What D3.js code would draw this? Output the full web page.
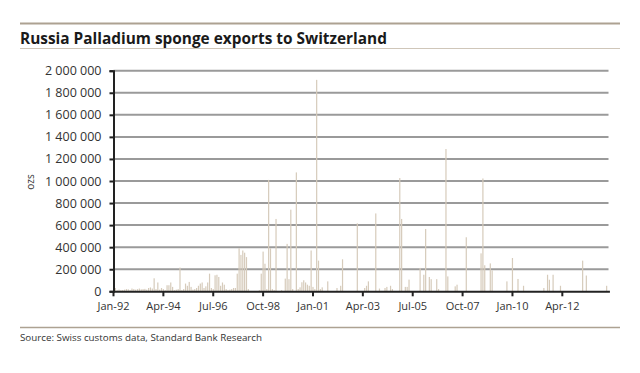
<!DOCTYPE html>
<html>
<head>
<meta charset="utf-8">
<script src="https://cdnjs.cloudflare.com/ajax/libs/d3/7.8.5/d3.min.js"></script>
<style>
body { margin: 0; background: #fff; }
text { font-family: "Open Sans", sans-serif; }
</style>
</head>
<body>
<script>
var title = "Russia Palladium sponge exports to Switzerland";
var source = "Source: Swiss customs data, Standard Bank Research";
var yLabel = "ozs";

// monthly exports in thousand ozs, one row per year, starting Jan-92
var kozs1990s = [
    0, 30, 10, 15, 10, 12, 15, 20, 18, 10, 25, 20,
    15, 20, 25, 18, 20, 22, 15, 30, 35, 25, 118, 20,
    80, 15, 30, 20, 10, 55, 55, 80, 40, 10, 15, 20,
    215, 10, 20, 70, 50, 85, 40, 15, 20, 30, 50, 70,
    80, 30, 45, 80, 160, 30, 20, 145, 150, 130, 50, 80,
    60, 20, 10, 15, 20, 30, 30, 160, 390, 330, 370, 350,
    310, 20, 0, 0, 0, 0, 0, 10, 160, 360, 250, 20,
    1010, 390, 20, 10, 656, 0, 0, 10, 0, 115, 430, 110
];
var kozs2000s = [
    740, 20, 0, 1078, 20, 36, 82, 100, 80, 60, 50, 370,
    40, 20, 1917, 278, 20, 36, 0, 0, 90, 0, 0, 0,
    0, 30, 0, 50, 290, 0, 0, 0, 0, 0, 0, 0,
    616, 0, 0, 0, 30, 50, 90, 0, 0, 0, 706, 0,
    25, 0, 0, 30, 40, 0, 50, 20, 0, 0, 0, 1027,
    656, 0, 40, 40, 106, 0, 0, 0, 0, 0, 212, 0,
    150, 565, 0, 130, 110, 0, 0, 110, 20, 0, 0, 0,
    1290, 135, 0, 0, 0, 45, 60, 0, 0, 0, 0, 490,
    0, 0, 0, 0, 0, 0, 0, 344, 1023, 236, 0, 0,
    253, 190, 0, 0, 0, 0, 0, 0, 0, 90, 0, 0
];
var kozs2010s = [
    302, 0, 0, 112, 0, 0, 50, 0, 0, 0, 0, 0,
    0, 0, 0, 0, 0, 30, 0, 150, 105, 0, 150, 0,
    0, 0, 50, 0, 0, 0, 0, 0, 0, 0, 0, 0,
    0, 0, 278, 0, 143, 0, 0, 0, 0, 0, 0, 0,
    0, 0, 0, 50, 0
];

var tickLabels = ["Jan-92", "Apr-94", "Jul-96", "Oct-98", "Jan-01", "Apr-03", "Jul-05", "Oct-07", "Jan-10", "Apr-12"];
var yTicks = [0, 200000, 400000, 600000, 800000, 1000000, 1200000, 1400000, 1600000, 1800000, 2000000];

var values = kozs1990s.concat(kozs2000s, kozs2010s);
var monthFormat = d3.timeFormat("%b-%y");
var months = values.map(function(v, i) { return monthFormat(new Date(1992, i, 1)); });
var data = values.map(function(v, i) { return {month: months[i], ozs: v * 1000}; });

var width = 640, height = 373;
var plot = {left: 113.5, right: 608.5, top: 70.7, bottom: 291.3};

var svg = d3.select("body").append("svg")
    .attr("width", width)
    .attr("height", height);

var step = (plot.right - plot.left) / (months.length - 1);
var xScale = d3.scaleBand()
    .domain(months)
    .range([plot.left - step / 2, plot.right + step / 2])
    .padding(0);
var yScale = d3.scaleLinear()
    .domain([0, 2000000])
    .range([plot.bottom, plot.top]);

var locale = d3.formatLocale({decimal: ".", thousands: " ", grouping: [3], currency: ["", ""]});
var fmt = locale.format(",");

// header rules and title
svg.append("line")
    .attr("x1", 20).attr("x2", 620).attr("y1", 23.5).attr("y2", 23.5)
    .attr("stroke", "#ada292").attr("stroke-width", 2);
svg.append("line")
    .attr("x1", 20).attr("x2", 620).attr("y1", 48.5).attr("y2", 48.5)
    .attr("stroke", "#cfc6b9").attr("stroke-width", 1);
svg.append("text")
    .attr("x", 20)
    .attr("y", 44)
    .attr("font-size", "15.4px")
    .attr("font-weight", "bold")
    .attr("fill", "#1a1a1a")
    .text(title);

// gridlines
svg.append("g")
    .selectAll("line")
    .data(yTicks.slice(1))
    .enter().append("line")
    .attr("x1", plot.left)
    .attr("x2", plot.right)
    .attr("y1", function(d) { return yScale(d); })
    .attr("y2", function(d) { return yScale(d); })
    .attr("stroke", "#9a9a9a")
    .attr("stroke-width", 2);

// bars
svg.append("g")
    .selectAll("rect")
    .data(data.filter(function(d) { return d.ozs > 0; }))
    .enter().append("rect")
    .attr("x", function(d) { return xScale(d.month) + xScale.bandwidth() / 2 - 0.6; })
    .attr("width", 1.2)
    .attr("y", function(d) { return yScale(d.ozs); })
    .attr("height", function(d) { return plot.bottom - yScale(d.ozs); })
    .attr("fill", "#d6cbbb");

// y axis
var yAxis = svg.append("g")
    .attr("transform", "translate(" + plot.left + ",0)")
    .call(d3.axisLeft(yScale).tickValues(yTicks).tickFormat(fmt).tickSize(4).tickPadding(8));
yAxis.select(".domain").attr("stroke", "#222").attr("stroke-width", 2);
yAxis.selectAll(".tick line").attr("stroke", "#222").attr("stroke-width", 2);
yAxis.selectAll("text").attr("font-size", "12.5px").attr("fill", "#333")
    .style("font-family", "Open Sans, sans-serif");

// x axis
var xAxis = svg.append("g")
    .attr("transform", "translate(0," + plot.bottom + ")")
    .call(d3.axisBottom(xScale).tickValues(tickLabels).tickSize(5).tickSizeOuter(0).tickPadding(6));
xAxis.select(".domain").attr("stroke", "#222").attr("stroke-width", 2);
xAxis.selectAll(".tick line").attr("stroke", "#222").attr("stroke-width", 2);
xAxis.selectAll("text").attr("font-size", "11px").attr("fill", "#333")
    .style("font-family", "Open Sans, sans-serif");

// y axis label
svg.append("text")
    .attr("transform", "translate(34,182) rotate(-90)")
    .attr("text-anchor", "middle")
    .attr("font-size", "10px")
    .attr("fill", "#333")
    .text(yLabel);

// footer
svg.append("line")
    .attr("x1", 20).attr("x2", 620).attr("y1", 327.5).attr("y2", 327.5)
    .attr("stroke", "#ada292").attr("stroke-width", 1.5);
svg.append("text")
    .attr("x", 20)
    .attr("y", 341)
    .attr("font-size", "9.8px")
    .attr("fill", "#333")
    .text(source);
</script>
</body>
</html>
